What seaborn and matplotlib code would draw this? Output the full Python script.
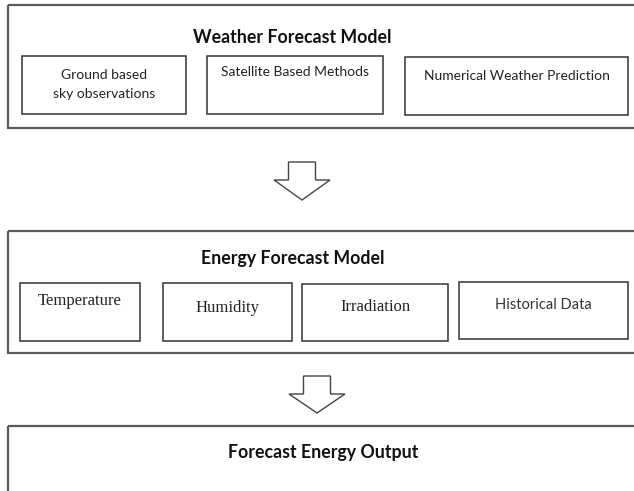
import matplotlib
matplotlib.use("Agg")
import matplotlib.pyplot as plt
import seaborn as sns
from matplotlib.patches import Rectangle, Polygon

sns.set_theme(style="white")

# text content
stage_titles = ["Weather Forecast Model", "Energy Forecast Model", "Forecast Energy Output"]
weather_items = ["Ground based\nsky observations", "Satellite Based Methods", "Numerical Weather Prediction"]
energy_items = ["Temperature", "Humidity", "Irradiation", "Historical Data"]
energy_fonts = ["serif", "serif", "serif", "sans"]

# layout (pixel coordinates, y downwards)
stage_boxes = [(8, 5, 640, 123), (8, 231, 640, 122), (8, 426, 640, 100)]
title_pos = [(292.5, 43), (293, 264), (323, 458)]
title_clip = [None, 265, None]
weather_boxes = [(22, 56, 164, 58), (207, 56, 176, 58), (405, 57, 223, 58)]
weather_text_y = [84.5, 72, 76]
energy_boxes = [(20, 283, 120, 58), (163, 283, 129, 58), (302, 284, 146, 57), (459, 282, 169, 57)]
energy_text_y = [305, 312, 311, 309]
arrows = [(302, 162, 180, 200), (317, 376, 394, 413)]

sans = ["Lato", "DejaVu Sans"]
serif = ["Liberation Serif", "DejaVu Serif"]

fig = plt.figure(figsize=(6.34, 4.91), dpi=100)
ax = fig.add_axes([0, 0, 1, 1])
ax.set_xlim(0, 634)
ax.set_ylim(491, 0)
ax.axis("off")

for (x, y, w, h), (tx, ty), t, clip in zip(stage_boxes, title_pos, stage_titles, title_clip):
    ax.add_patch(Rectangle((x, y), w, h, fill=False, ec="#5a5a5a", lw=1.6))
    txt = ax.text(tx, ty, t, ha="center", va="baseline", fontsize=12.8, fontweight="bold",
                  family=sans, color="#111111")
    if clip is not None:
        # the descenders are cut off in the original
        txt.set_clip_path(Rectangle((0, 0), 634, clip, transform=ax.transData))

for (x, y, w, h), t, ty in zip(weather_boxes, weather_items, weather_text_y):
    ax.add_patch(Rectangle((x, y), w, h, fill=False, ec="#333333", lw=1.1))
    ax.text(x + w / 2, ty, t, ha="center", va="center", fontsize=10,
            family=sans, color="#222222", linespacing=1.75)

for (x, y, w, h), t, f, ty in zip(energy_boxes, energy_items, energy_fonts, energy_text_y):
    ax.add_patch(Rectangle((x, y), w, h, fill=False, ec="#333333", lw=1.1))
    if f == "serif":
        ax.text(x + w / 2, ty, t, ha="center", va="baseline", fontsize=12,
                family=serif, color="#222222")
    else:
        ax.text(x + w / 2, ty, t, ha="center", va="baseline", fontsize=10.5,
                family=sans, color="#333333")

for cx, top, neck, tip in arrows:
    sw, hw = 13.5, 28
    pts = [(cx - sw, top), (cx + sw, top), (cx + sw, neck), (cx + hw, neck),
           (cx, tip), (cx - hw, neck), (cx - sw, neck)]
    ax.add_patch(Polygon(pts, closed=True, fill=False, ec="#444444", lw=1.0))

fig.savefig("out.png", dpi=100)
